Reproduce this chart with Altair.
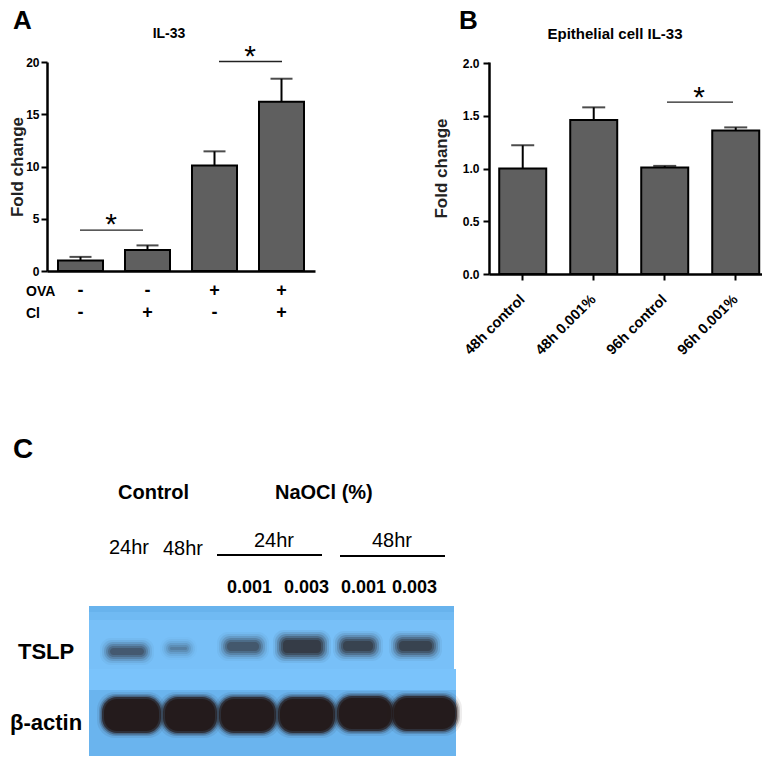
import altair as alt
import pandas as pd

FONT = "Liberation Sans"

# ---------- Panel A ----------
a_groups = ["g1", "g2", "g3", "g4"]
a_values = [1.0, 2.0, 10.1, 16.2]
a_upper = [1.35, 2.45, 11.45, 18.4]
a_ova = ["-", "-", "+", "+"]
a_cl = ["-", "+", "-", "+"]
a_ticks = [0, 5, 10, 15, 20]

# ---------- Panel B ----------
b_groups = ["48h control", "48h 0.001%", "96h control", "96h 0.001%"]
b_values = [1.0, 1.46, 1.01, 1.36]
b_upper = [1.22, 1.58, 1.025, 1.39]
b_ticks = [0.0, 0.5, 1.0, 1.5, 2.0]

# ---------- Panel C: blot bands (extents in image pixels) ----------
tslp_x0 = [105, 165, 222, 278, 338, 394]
tslp_x1 = [149, 192, 264, 326, 378, 437]
tslp_y0 = [643, 642, 637, 635, 636, 636]
tslp_y1 = [660, 655, 656, 658, 656, 656]
tslp_dark = [0.6, 0.32, 0.62, 0.95, 0.85, 0.85]
actin_x0 = [102, 163, 219, 278, 337, 392]
actin_x1 = [161, 217, 276, 335, 393, 457]
actin_y0 = [697, 697, 697, 697, 696, 696]
actin_y1 = [733, 733, 733, 733, 731, 731]
actin_dark = [1.0, 1.0, 1.0, 1.0, 1.0, 1.0]

DARK = "#241a1a"
BAR = "#5f5f5f"


def bar_layers(groups, values, upper, bar_w, cap_w, scale_x, scale_y, axis_x, axis_y, ytitle):
    df = pd.DataFrame({"group": groups, "value": values, "upper": upper})
    x = alt.X("group:N", sort=groups, scale=scale_x, axis=axis_x, title=None)
    y = alt.Y("value:Q", scale=scale_y, axis=axis_y, title=ytitle)
    base = alt.Chart(df)
    stem = base.mark_rule(color="black", strokeWidth=2).encode(x=x, y=y, y2="upper:Q")
    cap = base.mark_tick(color="black", size=cap_w, thickness=2).encode(
        x=x, y=alt.Y("upper:Q", scale=scale_y, axis=axis_y, title=ytitle))
    bars = base.mark_bar(size=bar_w, color=BAR, stroke="black", strokeWidth=2).encode(x=x, y=y)
    return [stem, cap, bars]


def note(text, x, y, size, weight="normal", align="left", color="black"):
    return alt.Chart(pd.DataFrame({"t": [text]})).mark_text(
        text=text, font=FONT, fontSize=size, fontWeight=weight, align=align,
        baseline="alphabetic", color=color
    ).encode(x=alt.value(x), y=alt.value(y))


def bracket(x0, x1, y, scale_y, axis_y):
    return alt.Chart(pd.DataFrame({"y": [y]})).mark_rule(color="#222222", strokeWidth=1.3).encode(
        x=alt.value(x0), x2=alt.value(x1),
        y=alt.Y("y:Q", scale=scale_y, axis=axis_y, title="Fold change"))


def y_axis(ticks, fmt, pad, title_pad):
    return alt.Axis(values=ticks, format=fmt, grid=False, domainWidth=2.5, domainColor="black",
                    tickWidth=2, tickSize=6, tickColor="black", labelFont=FONT, labelFontSize=12,
                    labelFontWeight="bold", labelColor="black", labelPadding=pad,
                    titleFont=FONT, titleFontSize=17, titleFontWeight="bold", titleColor="#222222",
                    titlePadding=title_pad)


# Panel A
ay = alt.Scale(domain=[0, 20], nice=False)
ax = alt.Scale(paddingInner=0.33, paddingOuter=0.165)
ax_axis = alt.Axis(domainWidth=2.5, domainColor="black", ticks=False, labels=False, grid=False, title=None)
ay_axis = y_axis(a_ticks, "d", 2, -1)
a_layers = bar_layers(a_groups, a_values, a_upper, 45, 22, ax, ay, ax_axis, ay_axis, "Fold change")


def sign_row(signs, y):
    d = pd.DataFrame({"group": a_groups, "s": signs})
    return alt.Chart(d).mark_text(font=FONT, fontSize=18, fontWeight="bold", color="black").encode(
        x=alt.X("group:N", sort=a_groups, scale=ax, axis=ax_axis, title=None),
        y=alt.value(y), text="s:N")


panel_a = alt.layer(
    *a_layers,
    bracket(33, 96, 3.92, ay, ay_axis),
    bracket(172, 235, 20.05, ay, ay_axis),
    note("*", 64, 172, 30, align="center"),
    note("*", 203, 4, 30, align="center"),
    sign_row(a_ova, 229),
    sign_row(a_cl, 251),
    note("OVA", -21, 234, 14, "bold"),
    note("Cl", -21, 256, 14, "bold"),
    note("IL-33", 122, -24, 14, "bold", align="center"),
    note("A", -34, -33, 26, "bold"),
).properties(width=268, height=209)

# Panel B
by = alt.Scale(domain=[0, 2.01], nice=False)
bx = alt.Scale(paddingInner=0.33, paddingOuter=0.0875, align=0.8)
bx_axis = alt.Axis(domainWidth=2.5, domainColor="black", tickWidth=2, tickSize=6, tickColor="black",
                   labelAngle=-45, labelAlign="right", labelBaseline="middle", labelFont=FONT,
                   labelFontSize=14.5, labelFontWeight="bold", labelColor="black", labelPadding=17,
                   grid=False, title=None)
by_axis = y_axis(b_ticks, ".1f", 4, 12)
b_layers = bar_layers(b_groups, b_values, b_upper, 47, 23, bx, by, bx_axis, by_axis, "Fold change")
panel_b = alt.layer(
    *b_layers,
    bracket(178, 244, 1.63, by, by_axis),
    note("*", 210, 45, 30, align="center"),
    note("Epithelial cell IL-33", 126, -23, 15, "bold", align="center"),
    note("B", -30, -33, 26, "bold"),
).properties(width=273, height=212)

# Panel C: coordinates are image pixels
cx = alt.Scale(domain=[47, 467], nice=False, zero=False)
cy = alt.Scale(domain=[760, 435], nice=False, zero=False)
X = lambda f: alt.X(f, type="quantitative", scale=cx, axis=None)
Y = lambda f: alt.Y(f, type="quantitative", scale=cy, axis=None)


def panel_rect(x0, x1, y0, y1, color, radius=0, opacity=1.0):
    d = pd.DataFrame({"x0": [x0], "x1": [x1], "y0": [y0], "y1": [y1]})
    return alt.Chart(d).mark_rect(color=color, cornerRadius=radius, opacity=opacity).encode(
        x=X("x0"), x2="x1:Q", y=Y("y0"), y2="y1:Q")


def bands(x0s, x1s, y0s, y1s, darks, grow, radius, opacity):
    d = pd.DataFrame({
        "x0": [v - grow for v in x0s], "x1": [v + grow for v in x1s],
        "y0": [v - grow for v in y0s], "y1": [v + grow for v in y1s],
        "o": [v * opacity for v in darks]})
    return alt.Chart(d).mark_rect(color=DARK, cornerRadius=radius).encode(
        x=X("x0"), x2="x1:Q", y=Y("y0"), y2="y1:Q",
        opacity=alt.Opacity("o:Q", scale=None))


def txt(text, x, y, size, weight="normal", align="left"):
    d = pd.DataFrame({"x": [x], "y": [y]})
    return alt.Chart(d).mark_text(text=text, font=FONT, fontSize=size, fontWeight=weight, align=align,
                                  baseline="alphabetic", color="black").encode(x=X("x"), y=Y("y"))


def line(x0, x1, y):
    d = pd.DataFrame({"x0": [x0], "x1": [x1], "y": [y]})
    return alt.Chart(d).mark_rule(color="black", strokeWidth=2).encode(x=X("x0"), x2="x1:Q", y=Y("y"))


blot = [
    panel_rect(89, 454, 606, 669, "#68b3ed"),
    panel_rect(89, 454, 612, 669, "#70baf3"),
    panel_rect(89, 454, 620, 669, "#78c0f8"),
    panel_rect(89, 456, 669, 756, "#6ab4ee"),
    panel_rect(89, 456, 669, 690, "#7ac3fb"),
]
for grow, radius, op in [(5, 11, 0.06), (3, 10, 0.12), (1, 9, 0.2), (-1, 8, 0.28), (-3, 6, 0.35), (-5, 4, 0.4)]:
    blot.append(bands(tslp_x0, tslp_x1, tslp_y0, tslp_y1, tslp_dark, grow, radius, op))
for grow, radius, op in [(5, 18, 0.08), (3, 17, 0.18), (1.5, 16, 0.35), (0, 15, 0.7), (-2, 13, 0.95)]:
    blot.append(bands(actin_x0, actin_x1, actin_y0, actin_y1, actin_dark, grow, radius, op))

panel_c = alt.layer(
    *blot,
    txt("C", 13, 458, 28, "bold"),
    txt("Control", 118, 499, 20, "bold"),
    txt("NaOCl (%)", 275, 499, 20, "bold"),
    txt("24hr", 109, 554, 20),
    txt("48hr", 163, 555, 20),
    txt("24hr", 254, 547, 20),
    txt("48hr", 372, 547, 20),
    line(217, 322, 555),
    line(340, 445, 556),
    txt("0.001", 227, 593, 18, "bold"),
    txt("0.003", 284, 593, 18, "bold"),
    txt("0.001", 341, 593, 18, "bold"),
    txt("0.003", 392, 593, 18, "bold"),
    txt("TSLP", 18, 659, 22, "bold"),
    txt("β-actin", 10, 730, 22, "bold"),
).properties(width=420, height=325)

top = alt.hconcat(panel_a, panel_b, spacing=174, bounds="flush").resolve_scale(x="independent", y="independent")
chart = alt.vconcat(top, panel_c, spacing=373, bounds="flush").properties(
    padding=0, background="white"
).configure_view(strokeWidth=0)

chart.save("out.html", embed_options={"renderer": "svg", "actions": False})
